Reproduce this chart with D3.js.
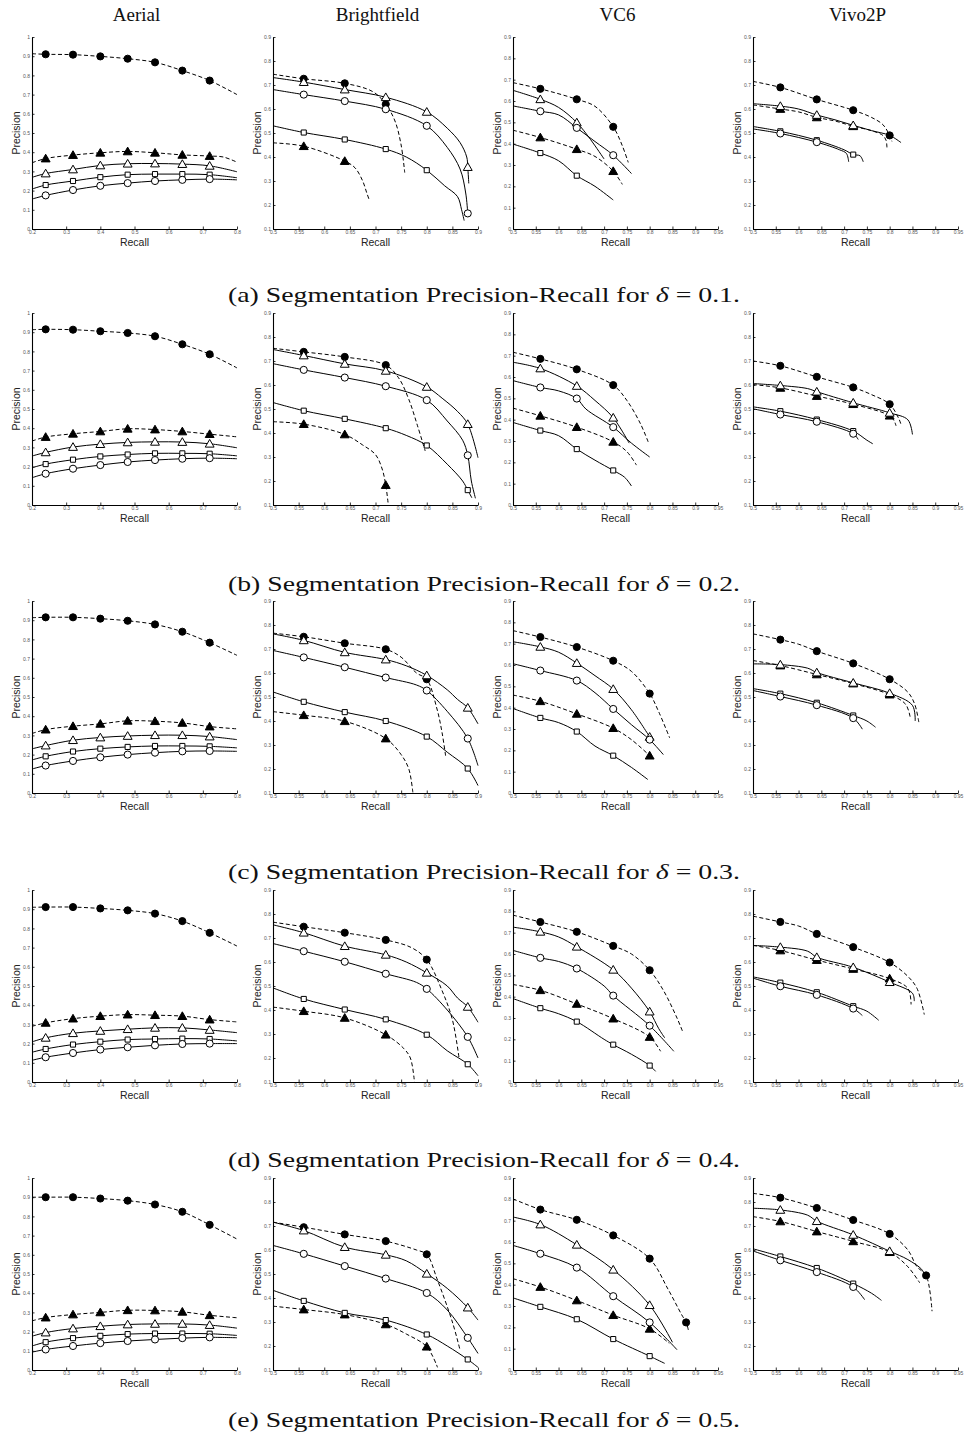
<!DOCTYPE html>
<html><head><meta charset="utf-8">
<script src="https://cdn.jsdelivr.net/npm/d3@7"></script>
<style>body{margin:0;background:#fff}</style>
</head><body>
<svg id="c" width="968" height="1455"></svg>
<script>
// ---------- categories / labels ----------
const columns = ["Aerial", "Brightfield", "VC6", "Vivo2P"];
const rowLetters = ["a", "b", "c", "d", "e"];
const deltas = ["0.1", "0.2", "0.3", "0.4", "0.5"];
const xDomains = [[0.2, 0.8], [0.5, 0.9], [0.5, 0.95], [0.5, 0.95]];
const yDomains = [[0, 1], [0.1, 0.9], [0, 0.9], [0.1, 0.9]];
const xTicksAerial = [0.2, 0.3, 0.4, 0.5, 0.6, 0.7, 0.8];
const xTicksBright = [0.5, 0.55, 0.6, 0.65, 0.7, 0.75, 0.8, 0.85, 0.9];
const xTicksWide = [0.5, 0.55, 0.6, 0.65, 0.7, 0.75, 0.8, 0.85, 0.9, 0.95];
const yTicksFull = [0, 0.1, 0.2, 0.3, 0.4, 0.5, 0.6, 0.7, 0.8, 0.9, 1];
const yTicks19 = [0.1, 0.2, 0.3, 0.4, 0.5, 0.6, 0.7, 0.8, 0.9];
const yTicks09 = [0, 0.1, 0.2, 0.3, 0.4, 0.5, 0.6, 0.7, 0.8, 0.9];
// series order in every panel: filled circle (dashed), filled triangle (dashed),
// open triangle, open square, open circle.  Points: [recall, precision, marked]

// ---------- row (a) delta = 0.1 ----------
const aerial_a = [
 [[0.2,0.913],[0.24,0.910,1],[0.32,0.908,1],[0.40,0.899,1],[0.48,0.887,1],[0.56,0.868,1],[0.64,0.825,1],[0.72,0.773,1],[0.8,0.700]],
 [[0.2,0.345],[0.24,0.367,1],[0.32,0.385,1],[0.40,0.397,1],[0.48,0.404,1],[0.56,0.397,1],[0.64,0.386,1],[0.72,0.380,1],[0.76,0.375],[0.8,0.348]],
 [[0.2,0.269],[0.24,0.289,1],[0.32,0.31,1],[0.40,0.331,1],[0.48,0.34,1],[0.56,0.341,1],[0.64,0.338,1],[0.72,0.329,1],[0.8,0.298]],
 [[0.2,0.208],[0.24,0.229,1],[0.32,0.25,1],[0.40,0.27,1],[0.48,0.283,1],[0.56,0.286,1],[0.64,0.286,1],[0.72,0.283,1],[0.8,0.267]],
 [[0.2,0.156],[0.24,0.175,1],[0.32,0.203,1],[0.40,0.225,1],[0.48,0.239,1],[0.56,0.25,1],[0.64,0.256,1],[0.72,0.26,1],[0.8,0.256]]
];
const bright_a = [
 [[0.5,0.745],[0.56,0.726,1],[0.64,0.707,1],[0.695,0.672],[0.72,0.62,1],[0.738,0.55],[0.75,0.45],[0.757,0.335]],
 [[0.5,0.459],[0.56,0.445,1],[0.64,0.383,1],[0.66,0.355],[0.675,0.30],[0.683,0.25],[0.688,0.22]],
 [[0.5,0.731],[0.56,0.712,1],[0.64,0.681,1],[0.72,0.649,1],[0.80,0.588,1],[0.84,0.52],[0.865,0.46],[0.878,0.40],[0.88,0.358,1],[0.882,0.29]],
 [[0.5,0.53],[0.56,0.502,1],[0.64,0.473,1],[0.72,0.433,1],[0.76,0.40],[0.80,0.345,1],[0.835,0.28],[0.86,0.235],[0.868,0.18],[0.873,0.135]],
 [[0.5,0.681],[0.56,0.66,1],[0.64,0.633,1],[0.72,0.599,1],[0.80,0.53,1],[0.84,0.44],[0.865,0.35],[0.876,0.25],[0.88,0.165,1]]
];
const vc6_a = [
 [[0.5,0.686],[0.56,0.657,1],[0.64,0.608,1],[0.68,0.575],[0.72,0.479,1],[0.74,0.39],[0.753,0.312]],
 [[0.5,0.463],[0.56,0.429,1],[0.64,0.374,1],[0.68,0.34],[0.72,0.271,1],[0.74,0.209]],
 [[0.5,0.65],[0.56,0.608,1],[0.60,0.57],[0.64,0.499,1],[0.67,0.42],[0.70,0.328]],
 [[0.5,0.398],[0.56,0.356,1],[0.60,0.32],[0.64,0.25,1],[0.68,0.2],[0.72,0.136]],
 [[0.5,0.577],[0.56,0.552,1],[0.60,0.535],[0.64,0.474,1],[0.68,0.41],[0.72,0.346,1],[0.76,0.26]]
];
const vivo_a = [
 [[0.5,0.715],[0.56,0.69,1],[0.64,0.64,1],[0.72,0.595,1],[0.76,0.565],[0.785,0.535],[0.80,0.49,1],[0.805,0.465]],
 [[0.5,0.617],[0.56,0.60,1],[0.60,0.588],[0.64,0.565,1],[0.68,0.55],[0.72,0.528,1],[0.76,0.51],[0.785,0.49],[0.792,0.47],[0.794,0.44]],
 [[0.5,0.622],[0.56,0.612,1],[0.60,0.60],[0.64,0.575,1],[0.68,0.555],[0.72,0.532,1],[0.76,0.51],[0.80,0.49],[0.825,0.46]],
 [[0.5,0.527],[0.56,0.507,1],[0.64,0.47,1],[0.70,0.43],[0.72,0.41,1],[0.735,0.405],[0.742,0.38]],
 [[0.5,0.517],[0.56,0.498,1],[0.64,0.462,1],[0.69,0.43],[0.705,0.415],[0.71,0.38]]
];
// ---------- row (b) delta = 0.2 ----------
const aerial_b = [
 [[0.2,0.913],[0.24,0.915,1],[0.32,0.913,1],[0.40,0.905,1],[0.48,0.896,1],[0.56,0.879,1],[0.64,0.837,1],[0.72,0.785,1],[0.8,0.714]],
 [[0.2,0.333],[0.24,0.354,1],[0.32,0.371,1],[0.40,0.383,1],[0.48,0.397,1],[0.56,0.393,1],[0.64,0.383,1],[0.72,0.369,1],[0.8,0.355]],
 [[0.2,0.255],[0.24,0.274,1],[0.32,0.302,1],[0.40,0.317,1],[0.48,0.326,1],[0.56,0.329,1],[0.64,0.328,1],[0.72,0.319,1],[0.8,0.298]],
 [[0.2,0.194],[0.24,0.213,1],[0.32,0.236,1],[0.40,0.253,1],[0.48,0.263,1],[0.56,0.269,1],[0.64,0.269,1],[0.72,0.267,1],[0.8,0.256]],
 [[0.2,0.142],[0.24,0.163,1],[0.32,0.189,1],[0.40,0.208,1],[0.48,0.224,1],[0.56,0.234,1],[0.64,0.241,1],[0.72,0.244,1],[0.8,0.241]]
];
const bright_b = [
 [[0.5,0.753],[0.56,0.738,1],[0.64,0.717,1],[0.72,0.683,1],[0.745,0.63],[0.765,0.54],[0.782,0.43],[0.797,0.325]],
 [[0.5,0.447],[0.56,0.437,1],[0.64,0.394,1],[0.675,0.35],[0.70,0.31],[0.713,0.25],[0.72,0.183,1],[0.725,0.1]],
 [[0.5,0.748],[0.56,0.723,1],[0.64,0.688,1],[0.72,0.659,1],[0.80,0.592,1],[0.83,0.545],[0.86,0.49],[0.88,0.437,1],[0.9,0.297]],
 [[0.5,0.527],[0.56,0.493,1],[0.64,0.459,1],[0.72,0.42,1],[0.76,0.39],[0.80,0.348,1],[0.84,0.27],[0.87,0.2],[0.88,0.162,1],[0.888,0.13]],
 [[0.5,0.689],[0.56,0.663,1],[0.64,0.631,1],[0.72,0.595,1],[0.80,0.537,1],[0.84,0.45],[0.87,0.37],[0.88,0.307,1],[0.887,0.2],[0.895,0.128]]
];
const vc6_b = [
 [[0.5,0.716],[0.56,0.685,1],[0.64,0.636,1],[0.72,0.562,1],[0.75,0.49],[0.78,0.38],[0.798,0.289]],
 [[0.5,0.454],[0.56,0.418,1],[0.64,0.365,1],[0.72,0.296,1],[0.75,0.25],[0.771,0.187]],
 [[0.5,0.669],[0.56,0.64,1],[0.64,0.558,1],[0.68,0.49],[0.72,0.409,1],[0.755,0.29]],
 [[0.5,0.387],[0.56,0.349,1],[0.60,0.325],[0.64,0.262,1],[0.68,0.21],[0.72,0.162,1],[0.745,0.13],[0.76,0.089]],
 [[0.5,0.583],[0.56,0.551,1],[0.60,0.535],[0.64,0.499,1],[0.66,0.45],[0.72,0.365,1],[0.76,0.29],[0.80,0.225]]
];
const vivo_b = [
 [[0.5,0.70],[0.56,0.68,1],[0.64,0.634,1],[0.72,0.59,1],[0.76,0.56],[0.80,0.52,1],[0.82,0.46],[0.825,0.435]],
 [[0.5,0.602],[0.56,0.588,1],[0.64,0.554,1],[0.72,0.52,1],[0.80,0.472,1],[0.81,0.45],[0.814,0.43]],
 [[0.5,0.606],[0.56,0.598,1],[0.62,0.585],[0.64,0.572,1],[0.72,0.526,1],[0.80,0.484,1],[0.84,0.455],[0.85,0.394]],
 [[0.5,0.509],[0.56,0.491,1],[0.64,0.456,1],[0.72,0.408,1],[0.75,0.37],[0.763,0.355]],
 [[0.5,0.501],[0.56,0.477,1],[0.64,0.447,1],[0.72,0.397,1],[0.731,0.373]]
];
// ---------- row (c) delta = 0.3 ----------
const aerial_c = [
 [[0.2,0.913],[0.24,0.915,1],[0.32,0.915,1],[0.40,0.908,1],[0.48,0.897,1],[0.56,0.878,1],[0.64,0.84,1],[0.72,0.783,1],[0.8,0.717]],
 [[0.2,0.31],[0.24,0.33,1],[0.32,0.348,1],[0.40,0.36,1],[0.48,0.376,1],[0.56,0.374,1],[0.64,0.365,1],[0.72,0.346,1],[0.8,0.334]],
 [[0.2,0.23],[0.24,0.247,1],[0.32,0.275,1],[0.40,0.289,1],[0.48,0.297,1],[0.56,0.301,1],[0.64,0.301,1],[0.72,0.294,1],[0.8,0.278]],
 [[0.2,0.172],[0.24,0.191,1],[0.32,0.216,1],[0.40,0.231,1],[0.48,0.24,1],[0.56,0.245,1],[0.64,0.245,1],[0.72,0.243,1],[0.8,0.235]],
 [[0.2,0.125],[0.24,0.143,1],[0.32,0.167,1],[0.40,0.186,1],[0.48,0.2,1],[0.56,0.21,1],[0.64,0.217,1],[0.72,0.219,1],[0.8,0.217]]
];
const bright_c = [
 [[0.5,0.766],[0.56,0.751,1],[0.64,0.724,1],[0.72,0.699,1],[0.75,0.666],[0.78,0.6],[0.80,0.574,1],[0.82,0.45],[0.83,0.35],[0.837,0.252]],
 [[0.5,0.439],[0.56,0.424,1],[0.64,0.399,1],[0.72,0.327,1],[0.75,0.26],[0.765,0.2],[0.773,0.1]],
 [[0.5,0.763],[0.56,0.736,1],[0.64,0.686,1],[0.72,0.656,1],[0.76,0.63],[0.80,0.59,1],[0.84,0.53],[0.86,0.49],[0.88,0.455,1],[0.9,0.388]],
 [[0.5,0.521],[0.56,0.48,1],[0.64,0.437,1],[0.72,0.4,1],[0.80,0.335,1],[0.84,0.27],[0.88,0.202,1],[0.9,0.131]],
 [[0.5,0.694],[0.56,0.665,1],[0.64,0.624,1],[0.72,0.581,1],[0.78,0.55],[0.80,0.527,1],[0.84,0.44],[0.88,0.327,1],[0.9,0.214]]
];
const vc6_c = [
 [[0.5,0.761],[0.56,0.731,1],[0.64,0.684,1],[0.72,0.62,1],[0.76,0.57],[0.80,0.466,1],[0.82,0.38],[0.844,0.258]],
 [[0.5,0.459],[0.56,0.43,1],[0.64,0.371,1],[0.72,0.304,1],[0.76,0.25],[0.80,0.175,1]],
 [[0.5,0.709],[0.56,0.685,1],[0.60,0.66],[0.64,0.609,1],[0.68,0.55],[0.72,0.487,1],[0.76,0.39],[0.80,0.263,1]],
 [[0.5,0.396],[0.56,0.352,1],[0.60,0.33],[0.64,0.288,1],[0.68,0.22],[0.72,0.175,1],[0.76,0.12],[0.796,0.063]],
 [[0.5,0.606],[0.56,0.574,1],[0.64,0.527,1],[0.68,0.47],[0.72,0.394,1],[0.76,0.32],[0.80,0.25,1],[0.83,0.18]]
];
const vivo_c = [
 [[0.5,0.763],[0.56,0.739,1],[0.60,0.72],[0.64,0.691,1],[0.72,0.64,1],[0.80,0.574,1],[0.84,0.52],[0.855,0.47],[0.864,0.395]],
 [[0.5,0.652],[0.56,0.631,1],[0.64,0.594,1],[0.72,0.556,1],[0.80,0.51,1],[0.835,0.47],[0.845,0.416]],
 [[0.5,0.638],[0.56,0.635,1],[0.62,0.62],[0.64,0.602,1],[0.72,0.559,1],[0.80,0.516,1],[0.85,0.465],[0.856,0.40]],
 [[0.5,0.535],[0.56,0.514,1],[0.64,0.476,1],[0.72,0.423,1],[0.75,0.40],[0.769,0.374]],
 [[0.5,0.527],[0.56,0.502,1],[0.64,0.466,1],[0.72,0.412,1],[0.74,0.366]]
];
// ---------- row (d) delta = 0.4 ----------
const aerial_d = [
 [[0.2,0.91],[0.24,0.911,1],[0.32,0.911,1],[0.40,0.904,1],[0.48,0.894,1],[0.56,0.877,1],[0.64,0.838,1],[0.72,0.777,1],[0.8,0.708]],
 [[0.2,0.29],[0.24,0.308,1],[0.32,0.33,1],[0.40,0.343,1],[0.48,0.351,1],[0.56,0.348,1],[0.64,0.343,1],[0.72,0.325,1],[0.8,0.313]],
 [[0.2,0.209],[0.24,0.23,1],[0.32,0.254,1],[0.40,0.266,1],[0.48,0.275,1],[0.56,0.282,1],[0.64,0.282,1],[0.72,0.271,1],[0.8,0.257]],
 [[0.2,0.155],[0.24,0.172,1],[0.32,0.195,1],[0.40,0.21,1],[0.48,0.221,1],[0.56,0.224,1],[0.64,0.226,1],[0.72,0.224,1],[0.8,0.214]],
 [[0.2,0.113],[0.24,0.129,1],[0.32,0.151,1],[0.40,0.169,1],[0.48,0.181,1],[0.56,0.191,1],[0.64,0.198,1],[0.72,0.2,1],[0.8,0.2]]
];
const bright_d = [
 [[0.5,0.766],[0.56,0.747,1],[0.64,0.722,1],[0.72,0.692,1],[0.77,0.66],[0.80,0.61,1],[0.83,0.48],[0.85,0.36],[0.863,0.2]],
 [[0.5,0.412],[0.56,0.395,1],[0.64,0.367,1],[0.72,0.297,1],[0.755,0.24],[0.768,0.2],[0.776,0.1]],
 [[0.5,0.755],[0.56,0.722,1],[0.64,0.666,1],[0.72,0.63,1],[0.76,0.6],[0.80,0.555,1],[0.84,0.5],[0.86,0.45],[0.88,0.413,1],[0.9,0.349]],
 [[0.5,0.492],[0.56,0.446,1],[0.64,0.402,1],[0.72,0.361,1],[0.80,0.297,1],[0.84,0.23],[0.88,0.174,1],[0.9,0.126]],
 [[0.5,0.677],[0.56,0.645,1],[0.64,0.601,1],[0.72,0.551,1],[0.78,0.515],[0.80,0.488,1],[0.84,0.4],[0.88,0.288,1],[0.9,0.2]]
];
const vc6_d = [
 [[0.5,0.782],[0.56,0.75,1],[0.64,0.704,1],[0.72,0.638,1],[0.76,0.6],[0.80,0.524,1],[0.83,0.43],[0.86,0.3],[0.873,0.233]],
 [[0.5,0.457],[0.56,0.43,1],[0.64,0.366,1],[0.72,0.297,1],[0.80,0.211,1],[0.824,0.144]],
 [[0.5,0.726],[0.56,0.704,1],[0.60,0.68],[0.64,0.634,1],[0.72,0.526,1],[0.76,0.44],[0.80,0.33,1],[0.82,0.25],[0.833,0.207]],
 [[0.5,0.391],[0.56,0.346,1],[0.60,0.32],[0.64,0.283,1],[0.70,0.2],[0.72,0.175,1],[0.76,0.13],[0.80,0.077,1],[0.813,0.05]],
 [[0.5,0.617],[0.56,0.582,1],[0.60,0.565],[0.64,0.532,1],[0.70,0.45],[0.72,0.405,1],[0.80,0.264,1],[0.853,0.144]]
];
const vivo_d = [
 [[0.5,0.791],[0.56,0.767,1],[0.60,0.75],[0.64,0.717,1],[0.72,0.662,1],[0.80,0.598,1],[0.84,0.54],[0.86,0.49],[0.876,0.381]],
 [[0.5,0.669],[0.56,0.648,1],[0.64,0.608,1],[0.72,0.571,1],[0.80,0.531,1],[0.84,0.49],[0.847,0.423]],
 [[0.5,0.669],[0.56,0.662,1],[0.62,0.645],[0.64,0.62,1],[0.72,0.578,1],[0.80,0.516,1],[0.85,0.47],[0.854,0.437]],
 [[0.5,0.538],[0.56,0.514,1],[0.64,0.474,1],[0.72,0.416,1],[0.75,0.395],[0.776,0.357]],
 [[0.5,0.533],[0.56,0.499,1],[0.64,0.463,1],[0.72,0.406,1],[0.74,0.377]]
];
// ---------- row (e) delta = 0.5 ----------
const aerial_e = [
 [[0.2,0.9],[0.24,0.9,1],[0.32,0.9,1],[0.40,0.893,1],[0.48,0.882,1],[0.56,0.862,1],[0.64,0.824,1],[0.72,0.756,1],[0.8,0.682]],
 [[0.2,0.256],[0.24,0.273,1],[0.32,0.289,1],[0.40,0.3,1],[0.48,0.311,1],[0.56,0.31,1],[0.64,0.303,1],[0.72,0.285,1],[0.8,0.272]],
 [[0.2,0.176],[0.24,0.195,1],[0.32,0.216,1],[0.40,0.228,1],[0.48,0.237,1],[0.56,0.24,1],[0.64,0.24,1],[0.72,0.234,1],[0.8,0.218]],
 [[0.2,0.125],[0.24,0.145,1],[0.32,0.166,1],[0.40,0.178,1],[0.48,0.187,1],[0.56,0.19,1],[0.64,0.19,1],[0.72,0.189,1],[0.8,0.18]],
 [[0.2,0.093],[0.24,0.107,1],[0.32,0.125,1],[0.40,0.14,1],[0.48,0.151,1],[0.56,0.159,1],[0.64,0.166,1],[0.72,0.17,1],[0.8,0.168]]
];
const bright_e = [
 [[0.5,0.716],[0.56,0.695,1],[0.64,0.665,1],[0.72,0.637,1],[0.78,0.6],[0.80,0.582,1],[0.82,0.48],[0.85,0.3],[0.865,0.183]],
 [[0.5,0.366],[0.56,0.352,1],[0.64,0.331,1],[0.72,0.29,1],[0.76,0.25],[0.80,0.197,1],[0.821,0.111]],
 [[0.5,0.716],[0.56,0.681,1],[0.64,0.612,1],[0.72,0.58,1],[0.76,0.555],[0.80,0.501,1],[0.84,0.44],[0.88,0.36,1],[0.9,0.308]],
 [[0.5,0.432],[0.56,0.388,1],[0.64,0.338,1],[0.72,0.308,1],[0.80,0.248,1],[0.84,0.2],[0.88,0.144,1],[0.9,0.111]],
 [[0.5,0.619],[0.56,0.584,1],[0.64,0.533,1],[0.72,0.481,1],[0.80,0.421,1],[0.84,0.35],[0.88,0.234,1],[0.9,0.169]]
];
const vc6_e = [
 [[0.5,0.802],[0.56,0.752,1],[0.64,0.704,1],[0.72,0.631,1],[0.80,0.522,1],[0.84,0.38],[0.87,0.26],[0.88,0.223,1],[0.885,0.187]],
 [[0.5,0.428],[0.56,0.389,1],[0.64,0.326,1],[0.72,0.257,1],[0.80,0.193,1],[0.843,0.125]],
 [[0.5,0.717],[0.56,0.682,1],[0.64,0.587,1],[0.72,0.47,1],[0.80,0.304,1],[0.85,0.13]],
 [[0.5,0.338],[0.56,0.296,1],[0.64,0.238,1],[0.72,0.145,1],[0.80,0.065,1],[0.833,0.031]],
 [[0.5,0.584],[0.56,0.545,1],[0.64,0.48,1],[0.72,0.346,1],[0.80,0.223,1],[0.86,0.095]]
];
const vivo_e = [
 [[0.5,0.836],[0.56,0.818,1],[0.64,0.775,1],[0.72,0.725,1],[0.80,0.667,1],[0.84,0.6],[0.86,0.53],[0.88,0.494,1],[0.893,0.345]],
 [[0.5,0.739],[0.56,0.719,1],[0.64,0.677,1],[0.72,0.636,1],[0.80,0.591,1],[0.84,0.53],[0.866,0.463]],
 [[0.5,0.774],[0.56,0.767,1],[0.62,0.745],[0.64,0.72,1],[0.72,0.663,1],[0.80,0.595,1],[0.84,0.56],[0.87,0.52],[0.876,0.50]],
 [[0.5,0.605],[0.56,0.573,1],[0.64,0.525,1],[0.72,0.46,1],[0.76,0.42],[0.782,0.39]],
 [[0.5,0.596],[0.56,0.557,1],[0.64,0.508,1],[0.72,0.446,1],[0.745,0.393]]
];

const panels = [
  [aerial_a, bright_a, vc6_a, vivo_a],
  [aerial_b, bright_b, vc6_b, vivo_b],
  [aerial_c, bright_c, vc6_c, vivo_c],
  [aerial_d, bright_d, vc6_d, vivo_d],
  [aerial_e, bright_e, vc6_e, vivo_e]
];

// ---------- layout & styles ----------
const colLeft = [32, 273, 513, 753];
const colW = 205;
const rowTop = [37, 313, 601, 890, 1178];
const plotH = 192;
const captionY = [295, 584, 872, 1160, 1420];
const seriesStyle = [
  {sym: d3.symbolCircle, size: 40, fill: "#000", dash: "4,2.5"},
  {sym: d3.symbolTriangle, size: 34, fill: "#000", dash: "4,2.5"},
  {sym: d3.symbolTriangle, size: 34, fill: "#fff", dash: null},
  {sym: d3.symbolSquare, size: 26, fill: "#fff", dash: null},
  {sym: d3.symbolCircle, size: 40, fill: "#fff", dash: null}
];
const xTickSets = [xTicksAerial, xTicksBright, xTicksWide, xTicksWide];
const yTickSets = [yTicksFull, yTicks19, yTicks09, yTicks19];
const fmt = d3.format("~g");
const SANS = "'Liberation Sans', Arial, sans-serif";
const SERIF = "'Liberation Serif', 'DejaVu Serif', serif";

const svg = d3.select("#c");
svg.append("rect").attr("width", 968).attr("height", 1455).attr("fill", "#fff");

// column titles
columns.forEach((t, c) => {
  svg.append("text").attr("x", colLeft[c] + colW / 2 + 2).attr("y", 21)
    .attr("text-anchor", "middle").attr("font-family", SERIF)
    .attr("font-size", 19).attr("fill", "#111").text(t);
});

rowLetters.forEach((L, r) => {
  columns.forEach((col, c) => {
    const x = d3.scaleLinear().domain(xDomains[c]).range([colLeft[c], colLeft[c] + colW]);
    const y = d3.scaleLinear().domain(yDomains[c]).range([rowTop[r] + plotH, rowTop[r]]);
    const g = svg.append("g");

    // axes
    const ax = g.append("g").attr("transform", `translate(0,${rowTop[r] + plotH})`)
      .call(d3.axisBottom(x).tickValues(xTickSets[c]).tickFormat(fmt).tickSizeInner(-2.5).tickSizeOuter(0).tickPadding(1.5));
    const ay = g.append("g").attr("transform", `translate(${colLeft[c]},0)`)
      .call(d3.axisLeft(y).tickValues(yTickSets[c]).tickFormat(fmt).tickSizeInner(-2.5).tickSizeOuter(0).tickPadding(2));
    [ax, ay].forEach(a => {
      a.select(".domain").attr("stroke", "#000").attr("stroke-width", 1.1);
      a.selectAll(".tick line").attr("stroke", "#000").attr("stroke-width", 0.8);
      a.selectAll(".tick text").attr("font-family", SANS)
        .attr("font-size", 5).attr("fill", "#555");
    });

    // axis labels
    g.append("text").attr("x", colLeft[c] + colW / 2).attr("y", rowTop[r] + plotH + 16.5)
      .attr("text-anchor", "middle").attr("font-family", SANS)
      .attr("font-size", 10.5).attr("fill", "#222").text("Recall");
    g.append("text").attr("transform", `translate(${colLeft[c] - 12},${rowTop[r] + plotH / 2}) rotate(-90)`)
      .attr("text-anchor", "middle").attr("font-family", SANS)
      .attr("font-size", 10.5).attr("fill", "#222").text("Precision");

    const line = d3.line().x(d => x(d[0])).y(d => y(d[1])).curve(d3.curveCatmullRom.alpha(0.5));
    const series = panels[r][c];
    series.forEach((pts, s) => {
      g.append("path").attr("d", line(pts)).attr("fill", "none").attr("stroke", "#000")
        .attr("stroke-width", 1).attr("stroke-dasharray", seriesStyle[s].dash);
    });
    series.forEach((pts, s) => {
      const st = seriesStyle[s];
      g.selectAll(null).data(pts.filter(p => p[2])).join("path")
        .attr("d", d3.symbol().type(st.sym).size(st.size))
        .attr("transform", d => `translate(${x(d[0])},${y(d[1]) + (st.sym === d3.symbolTriangle ? 0.8 : 0)})`)
        .attr("fill", st.fill).attr("stroke", "#000").attr("stroke-width", 1);
    });
  });

  // caption
  const cap = svg.append("text").attr("x", 484).attr("y", captionY[r] + 7)
    .attr("text-anchor", "middle").attr("font-family", SERIF)
    .attr("font-size", 22).attr("fill", "#111")
    .attr("textLength", 512).attr("lengthAdjust", "spacingAndGlyphs");
  cap.append("tspan").text(`(${L}) Segmentation Precision-Recall for `);
  cap.append("tspan").attr("font-style", "italic").text("δ");
  cap.append("tspan").text(` = ${deltas[r]}.`);
});
</script>
</body></html>
